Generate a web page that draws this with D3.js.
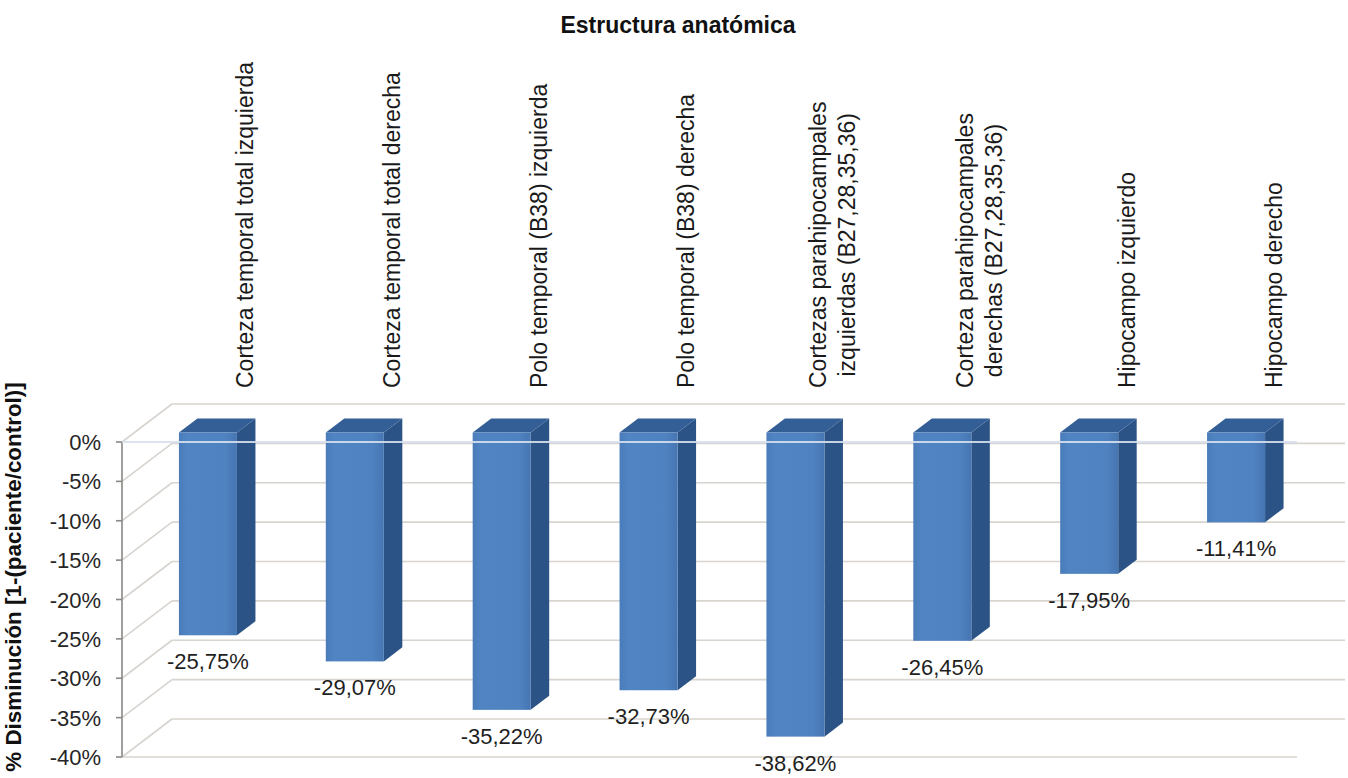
<!DOCTYPE html>
<html><head><meta charset="utf-8">
<script src="https://cdn.jsdelivr.net/npm/d3@7"></script>
<style>body{margin:0;background:#fff} text{font-family:"Liberation Sans",Arial,sans-serif}</style>
</head><body><svg id="c" width="1348" height="778"></svg>
<script>
const categories = [
  "Corteza temporal total izquierda",
  "Corteza temporal total derecha",
  "Polo temporal (B38) izquierda",
  "Polo temporal (B38) derecha",
  "Cortezas parahipocampales izquierdas (B27,28,35,36)",
  "Corteza parahipocampales derechas (B27,28,35,36)",
  "Hipocampo izquierdo",
  "Hipocampo derecho"
];
const categoryLines = [
  ["Corteza temporal total izquierda"],
  ["Corteza temporal total derecha"],
  ["Polo temporal (B38) izquierda"],
  ["Polo temporal (B38) derecha"],
  ["Cortezas parahipocampales", "izquierdas (B27,28,35,36)"],
  ["Corteza parahipocampales", "derechas (B27,28,35,36)"],
  ["Hipocampo izquierdo"],
  ["Hipocampo derecho"]
];
const values = [-25.75, -29.07, -35.22, -32.73, -38.62, -26.45, -17.95, -11.41];
const valueLabels = ["-25,75%", "-29,07%", "-35,22%", "-32,73%", "-38,62%", "-26,45%", "-17,95%", "-11,41%"];
const yTicks = [0, -5, -10, -15, -20, -25, -30, -35, -40];
const yTickLabels = ["0%", "-5%", "-10%", "-15%", "-20%", "-25%", "-30%", "-35%", "-40%"];
const title = "Estructura anatómica";
const yTitle = "% Disminución [1-(paciente/control)]";

const svg = d3.select("#c");
const y = d3.scaleLinear().domain([0, -40]).range([442, 757]);
const x = d3.scaleBand().domain(categories).range([122, 1297]).paddingInner(0.605).paddingOuter(0.3025);
const D = {dx: 50, dy: -38};
const f1 = 0.25, f2 = 0.62;
const backRight = 1345;

const defs = svg.append("defs");
const g1 = defs.append("linearGradient").attr("id", "front").attr("x1", 0).attr("x2", 1).attr("y1", 0).attr("y2", 0);
g1.append("stop").attr("offset", "0").attr("stop-color", "#4a7cba");
g1.append("stop").attr("offset", "0.15").attr("stop-color", "#5084c2");
g1.append("stop").attr("offset", "0.8").attr("stop-color", "#4f82c0");
g1.append("stop").attr("offset", "1").attr("stop-color", "#4676b2");

const gridColor = "#d8d4cf";
// back wall gridlines
svg.append("g").selectAll("line").data(yTicks).join("line")
  .attr("x1", 122 + D.dx).attr("x2", backRight)
  .attr("y1", d => y(d) + D.dy).attr("y2", d => y(d) + D.dy)
  .attr("stroke", gridColor).attr("stroke-width", 1.6);
// side wall diagonals
svg.append("g").selectAll("line").data(yTicks).join("line")
  .attr("x1", 122).attr("x2", 122 + D.dx)
  .attr("y1", d => y(d)).attr("y2", d => y(d) + D.dy)
  .attr("stroke", gridColor).attr("stroke-width", 1.6);
// floor front edge
svg.append("line").attr("x1", 122).attr("x2", 1297).attr("y1", y(-40)).attr("y2", y(-40))
  .attr("stroke", gridColor).attr("stroke-width", 1.6);

// y axis
const axisG = svg.append("g");
axisG.append("line").attr("x1", 122).attr("x2", 122).attr("y1", y(0)).attr("y2", y(-40))
  .attr("stroke", "#8a8784").attr("stroke-width", 1.6);
axisG.selectAll(".tk").data(yTicks).join("line").attr("class", "tk")
  .attr("x1", 116).attr("x2", 122).attr("y1", d => y(d)).attr("y2", d => y(d))
  .attr("stroke", "#8a8784").attr("stroke-width", 1.6);
axisG.selectAll(".tl").data(yTicks).join("text").attr("class", "tl")
  .attr("x", 101).attr("y", d => y(d) + 8).attr("text-anchor", "end")
  .attr("font-size", 22).attr("fill", "#262626")
  .text((d, i) => yTickLabels[i]);

// bars
const bdx = (f2 - f1) * D.dx, bdy = (f2 - f1) * D.dy;
const bars = svg.append("g").selectAll("g").data(categories).join("g");
bars.each(function(c, i) {
  const g = d3.select(this);
  const x1 = x(c) + f1 * D.dx, x2 = x1 + x.bandwidth();
  const yT = y(0) + f1 * D.dy, yB = y(values[i]) + f1 * D.dy;
  g.append("polygon").attr("points", [[x2, yT], [x2 + bdx, yT + bdy], [x2 + bdx, yB + bdy], [x2, yB]].join(" "))
    .attr("fill", "#2c5386");
  g.append("polygon").attr("points", [[x1, yT], [x2, yT], [x2 + bdx, yT + bdy], [x1 + bdx, yT + bdy]].join(" "))
    .attr("fill", "#335f96");
  g.append("rect").attr("x", x1).attr("y", yT).attr("width", x2 - x1).attr("height", yB - yT)
    .attr("fill", "url(#front)");
  g.append("text").attr("x", (x1 + x2) / 2).attr("y", yB + 34).attr("text-anchor", "middle")
    .attr("font-size", 22).attr("fill", "#1f1f1f").text(valueLabels[i]);
});

// floor edge at zero crossing bars
svg.append("line").attr("x1", 122).attr("x2", 1297).attr("y1", y(0)).attr("y2", y(0))
  .attr("stroke", "#d6e1ee").attr("stroke-width", 1.8).attr("opacity", 0.9);

// category labels
const labG = svg.append("g");
categories.forEach((c, i) => {
  const lines = categoryLines[i];
  const xc = x(c) + x.bandwidth() / 2 + 50;
  const lh = 29;
  const tmp = lines.map(l => labG.append("text").attr("font-size", 23).attr("fill", "#1a1a1a").text(l));
  const lens = tmp.map(t => t.node().getComputedTextLength());
  const maxL = d3.max(lens);
  const yc = 388 - maxL / 2;
  tmp.forEach((t, k) => {
    const xb = xc + (k - (lines.length - 1) / 2) * lh + 8;
    t.attr("text-anchor", "middle").attr("transform", `translate(${xb},${yc}) rotate(-90)`);
  });
});

// titles
svg.append("text").attr("x", 678).attr("y", 33).attr("text-anchor", "middle")
  .attr("font-size", 23).attr("font-weight", "bold").attr("fill", "#111").text(title);
svg.append("text").attr("transform", "translate(21,577) rotate(-90)").attr("text-anchor", "middle")
  .attr("font-size", 22.4).attr("font-weight", "bold").attr("fill", "#111").text(yTitle);
</script></body></html>
